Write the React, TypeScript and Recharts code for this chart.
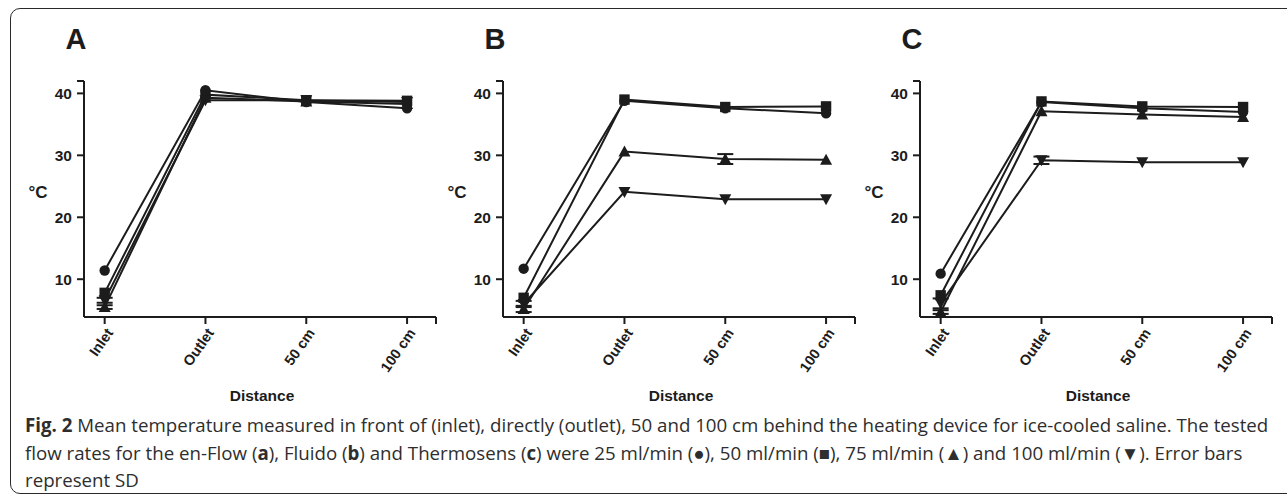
import React from 'react';
import { LineChart, Line, XAxis, YAxis, ErrorBar } from 'recharts';

const categories = ['Inlet', 'Outlet', '50 cm', '100 cm'];
const yTicks = [10, 20, 30, 40, 42];
const xTicks = [0, 1, 2, 3, 3.287];
const panelLetters = ['A', 'B', 'C'];

// Panel A (en-Flow)
const aCircle = [11.4, 40.5, 38.6, 37.6];
const aSquare = [7.8, 39.8, 38.9, 38.8];
const aUp = [5.5, 39.3, 38.7, 38.3];
const aDown = [6.6, 38.9, 38.9, 38.6];
const aCircleSd = [0, 0, 0, 0];
const aSquareSd = [0, 0, 0, 0];
const aUpSd = [0.3, 0, 0, 0];
const aDownSd = [0.4, 0, 0, 0];

// Panel B (Fluido)
const bCircle = [11.7, 38.8, 37.6, 36.8];
const bSquare = [7.0, 39.0, 37.8, 37.9];
const bUp = [5.2, 30.6, 29.4, 29.3];
const bDown = [6.0, 24.1, 22.9, 22.9];
const bCircleSd = [0, 0, 0, 0];
const bSquareSd = [0, 0, 0, 0];
const bUpSd = [0.5, 0, 0.8, 0];
const bDownSd = [0.5, 0, 0, 0];

// Panel C (Thermosens)
const cCircle = [10.9, 38.6, 37.6, 37.0];
const cSquare = [7.4, 38.7, 37.9, 37.8];
const cUp = [4.7, 37.1, 36.6, 36.2];
const cDown = [6.1, 29.2, 28.9, 28.9];
const cCircleSd = [0, 0, 0, 0];
const cSquareSd = [0, 0, 0, 0];
const cUpSd = [0.3, 0, 0, 0];
const cDownSd = [0.8, 0.6, 0, 0];

const INK = '#1c1c1c';

type Shape = 'circle' | 'square' | 'up' | 'down';

const makeDot = (shape: Shape) => (props: any) => {
  const { cx, cy, index } = props;
  const k = `${shape}-${index}`;
  if (cx == null || cy == null) return <g key={k} />;
  if (shape === 'circle') return <circle key={k} cx={cx} cy={cy} r={5.2} fill={INK} />;
  if (shape === 'square') return <rect key={k} x={cx - 5.2} y={cy - 5.2} width={10.4} height={10.4} fill={INK} />;
  if (shape === 'up')
    return <polygon key={k} points={`${cx},${cy - 6} ${cx - 6},${cy + 5} ${cx + 6},${cy + 5}`} fill={INK} />;
  return <polygon key={k} points={`${cx},${cy + 6} ${cx - 6},${cy - 5} ${cx + 6},${cy - 5}`} fill={INK} />;
};

const buildRows = (
  c: number[], s: number[], u: number[], d: number[],
  cE: number[], sE: number[], uE: number[], dE: number[]
) =>
  categories.map((_, i) => ({
    x: i,
    c: c[i], s: s[i], u: u[i], d: d[i],
    cE: cE[i], sE: sE[i], uE: uE[i], dE: dE[i],
  }));

const panels = [
  buildRows(aCircle, aSquare, aUp, aDown, aCircleSd, aSquareSd, aUpSd, aDownSd),
  buildRows(bCircle, bSquare, bUp, bDown, bCircleSd, bSquareSd, bUpSd, bDownSd),
  buildRows(cCircle, cSquare, cUp, cDown, cCircleSd, cSquareSd, cUpSd, cDownSd),
];

const FONT = "'Liberation Sans', Arial, sans-serif";

const XTick = (props: any) => {
  const { x, y, payload } = props;
  const v = payload.value;
  const label = Number.isInteger(v) && v >= 0 && v < categories.length ? categories[v] : '';
  if (!label) return <g />;
  return (
    <g transform={`translate(${x + 5},${y + 4})`}>
      <text
        transform="rotate(-55)"
        textAnchor="end"
        dy="0.35em"
        fontFamily={FONT}
        fontWeight="bold"
        fontSize={14.5}
        fill={INK}
      >
        {label}
      </text>
    </g>
  );
};

const seriesDefs: { key: 'c' | 's' | 'u' | 'd'; shape: Shape }[] = [
  { key: 'd', shape: 'down' },
  { key: 'u', shape: 'up' },
  { key: 's', shape: 'square' },
  { key: 'c', shape: 'circle' },
];

const CHART_W = 440;
const CHART_H = 420;
const panelLefts = [0, 418.7, 836];

const Panel = ({ data, letter, left }: { data: any[]; letter: string; left: number }) => (
  <div style={{ position: 'absolute', left, top: 0, width: CHART_W, height: CHART_H }}>
    <LineChart
      width={CHART_W}
      height={CHART_H}
      data={data}
      margin={{ top: 81, right: 4, left: 34, bottom: 43 }}
    >
      <XAxis
        type="number"
        dataKey="x"
        domain={[-0.205, 3.287]}
        ticks={xTicks}
        interval={0}
        allowDataOverflow
        height={60}
        tick={<XTick />}
        tickSize={7}
        axisLine={{ stroke: INK, strokeWidth: 2 }}
        tickLine={{ stroke: INK, strokeWidth: 2 }}
      />
      <YAxis
        type="number"
        domain={[3.9, 42]}
        ticks={yTicks}
        interval={0}
        allowDataOverflow
        width={50}
        tickSize={7}
        tickMargin={5}
        tickFormatter={(v: number) => (v === 42 ? '' : String(v))}
        tick={{ fontFamily: FONT, fontWeight: 'bold', fontSize: 15.5, fill: INK }}
        axisLine={{ stroke: INK, strokeWidth: 2 }}
        tickLine={{ stroke: INK, strokeWidth: 2 }}
      />
      {seriesDefs.map((sd) => (
        <Line
          key={sd.key}
          type="linear"
          dataKey={sd.key}
          stroke={INK}
          strokeWidth={2}
          dot={makeDot(sd.shape)}
          activeDot={false}
          isAnimationActive={false}
        >
          <ErrorBar dataKey={`${sd.key}E`} direction="y" width={8} stroke={INK} strokeWidth={2} />
        </Line>
      ))}
    </LineChart>
    <svg
      width={CHART_W}
      height={CHART_H}
      style={{ position: 'absolute', left: 0, top: 0, pointerEvents: 'none' }}
    >
      <text x={76} y={49} textAnchor="middle" fontFamily={FONT} fontWeight="bold" fontSize={29} fill={INK}>
        {letter}
      </text>
      <text x={38} y={198} textAnchor="middle" fontFamily={FONT} fontWeight="bold" fontSize={17} fill={INK}>
        °C
      </text>
      <text x={262} y={401} textAnchor="middle" fontFamily={FONT} fontWeight="bold" fontSize={15.5} fill={INK}>
        Distance
      </text>
    </svg>
  </div>
);

const captionStyle: React.CSSProperties = {
  position: 'absolute',
  left: 25,
  whiteSpace: 'nowrap',
  fontFamily: "'Open Sans', sans-serif",
  fontSize: 18.7,
  color: '#2e2e2e',
  lineHeight: '20px',
};

export default function App() {
  return (
    <div style={{ position: 'absolute', left: 0, top: 0, width: 1287, height: 497, overflow: 'hidden', background: '#fff' }}>
      <div
        style={{
          position: 'absolute',
          left: 10,
          top: 8,
          width: 1300,
          height: 486,
          border: '1.6px solid #2a2a2a',
          borderRadius: 10,
          boxSizing: 'border-box',
        }}
      />
      {panels.map((data, i) => (
        <Panel key={i} data={data} letter={panelLetters[i]} left={panelLefts[i]} />
      ))}
      <div style={{ ...captionStyle, top: 415 }}>
        <b>Fig. 2</b> Mean temperature measured in front of (inlet), directly (outlet), 50 and 100 cm behind the heating device for ice-cooled saline. The tested
      </div>
      <div style={{ ...captionStyle, top: 442.7 }}>
        flow rates for the en-Flow (<b>a</b>), Fluido (<b>b</b>) and Thermosens (<b>c</b>) were 25 ml/min (●), 50 ml/min (■), 75 ml/min (▲) and 100 ml/min (▼). Error bars
      </div>
      <div style={{ ...captionStyle, top: 470.4 }}>represent SD</div>
    </div>
  );
}
